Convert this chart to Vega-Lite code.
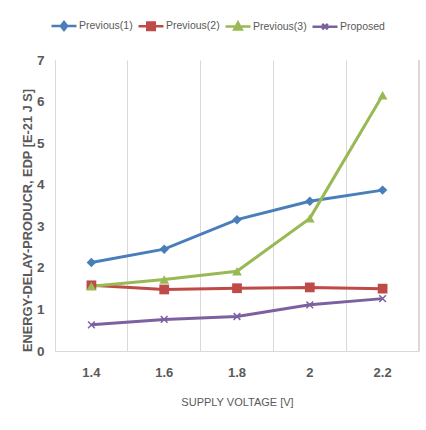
{
  "$schema": "https://vega.github.io/schema/vega-lite/v6.json",
  "width": 364,
  "height": 291,
  "autosize": {"type": "none"},
  "padding": {"left": 55, "top": 60, "right": 7, "bottom": 79},
  "background": "white",
  "config": {
    "view": {"stroke": null},
    "font": "Liberation Sans",
    "axis": {"domainColor": "#D9D9D9", "gridColor": "#D9D9D9", "ticks": false, "tickSize": 0, "labelColor": "#595959", "titleColor": "#595959"}
  },
  "data": {
    "values": [
      {"v": "1.4", "series": "Previous(1)", "edp": 2.13},
      {"v": "1.6", "series": "Previous(1)", "edp": 2.45},
      {"v": "1.8", "series": "Previous(1)", "edp": 3.16},
      {"v": "2", "series": "Previous(1)", "edp": 3.6},
      {"v": "2.2", "series": "Previous(1)", "edp": 3.87},
      {"v": "1.4", "series": "Previous(2)", "edp": 1.58},
      {"v": "1.6", "series": "Previous(2)", "edp": 1.48},
      {"v": "1.8", "series": "Previous(2)", "edp": 1.51},
      {"v": "2", "series": "Previous(2)", "edp": 1.53},
      {"v": "2.2", "series": "Previous(2)", "edp": 1.5},
      {"v": "1.4", "series": "Previous(3)", "edp": 1.56},
      {"v": "1.6", "series": "Previous(3)", "edp": 1.72},
      {"v": "1.8", "series": "Previous(3)", "edp": 1.92},
      {"v": "2", "series": "Previous(3)", "edp": 3.19},
      {"v": "2.2", "series": "Previous(3)", "edp": 6.15},
      {"v": "1.4", "series": "Proposed", "edp": 0.63},
      {"v": "1.6", "series": "Proposed", "edp": 0.76},
      {"v": "1.8", "series": "Proposed", "edp": 0.83},
      {"v": "2", "series": "Proposed", "edp": 1.11},
      {"v": "2.2", "series": "Proposed", "edp": 1.26}
    ]
  },
  "encoding": {
    "x": {
      "field": "v", "type": "ordinal", "sort": ["1.4", "1.6", "1.8", "2", "2.2"],
      "scale": {"paddingInner": 0, "paddingOuter": 0},
      "axis": {"title": "SUPPLY VOLTAGE [V]", "labelAngle": 0, "grid": true, "bandPosition": 0, "labelPadding": 15, "labelFontSize": 13, "labelFontWeight": "bold", "titleFontSize": 11, "titleFontWeight": "normal", "titlePadding": 17}
    },
    "y": {
      "field": "edp", "type": "quantitative",
      "scale": {"domain": [0, 7]},
      "axis": {"title": "ENERGY-DELAY-PRODUCR, EDP [E-21 J S]", "grid": false, "tickCount": 7, "labelPadding": 11, "labelFontSize": 13.5, "labelFontWeight": "bold", "titleFontSize": 12.8, "titleFontWeight": "bold", "titlePadding": 2, "titleY": 160}
    }
  },
  "layer": [
    {
      "mark": {"type": "rule", "color": "#D9D9D9", "strokeWidth": 1},
      "encoding": {"x": {"datum": "2.2", "type": "ordinal", "bandPosition": 1}, "y": null}
    },
    {
      "mark": {"type": "line", "strokeWidth": 3},
      "encoding": {
        "color": {
          "field": "series", "type": "nominal",
          "scale": {"domain": ["Previous(1)", "Previous(2)", "Previous(3)", "Proposed"], "range": ["#4A7EBB", "#BE4B48", "#98B954", "#7D60A0"]},
          "legend": {
            "title": null, "orient": "none", "direction": "horizontal", "columns": 4,
            "legendX": -5, "legendY": -48,
            "symbolSize": 625, "symbolStrokeWidth": 2.5, "labelOffset": 1, "columnPadding": 0,
            "labelFontSize": 10.5, "labelColor": "#595959",
            "encode": {
              "symbols": {
                "update": {
                  "shape": {"signal": "datum.value == 'Previous(1)' ? 'M-1,0L1,0M0,-0.32L0.25,0L0,0.32L-0.25,0Z' : datum.value == 'Previous(2)' ? 'M-1,0L1,0M-0.3,-0.3L0.3,-0.3L0.3,0.3L-0.3,0.3Z' : datum.value == 'Previous(3)' ? 'M-1,0L1,0M0,-0.32L0.3,0.24L-0.3,0.24Z' : 'M-1,0L1,0M-0.22,-0.22L0.22,0.22M-0.22,0.22L0.22,-0.22'"},
                  "fill": {"signal": "scale('color', datum.value)"},
                  "stroke": {"signal": "scale('color', datum.value)"},
                  "strokeWidth": {"value": 2.5}
                }
              }
            }
          }
        }
      }
    },
    {
      "transform": [{"filter": "datum.series == 'Previous(1)'"}],
      "mark": {"type": "point", "shape": "diamond", "filled": true, "opacity": 1, "size": 90, "color": "#4A7EBB"}
    },
    {
      "transform": [{"filter": "datum.series == 'Previous(2)'"}],
      "mark": {"type": "point", "shape": "square", "filled": true, "opacity": 1, "size": 95, "color": "#BE4B48"}
    },
    {
      "transform": [{"filter": "datum.series == 'Previous(3)'"}],
      "mark": {"type": "point", "shape": "triangle-up", "filled": true, "opacity": 1, "size": 95, "color": "#98B954"}
    },
    {
      "transform": [{"filter": "datum.series == 'Proposed'"}],
      "mark": {"type": "point", "shape": "M-1,-1L1,1M-1,1L1,-1", "filled": false, "opacity": 1, "size": 45, "strokeWidth": 1.5, "color": "#7D60A0"}
    }
  ]
}
